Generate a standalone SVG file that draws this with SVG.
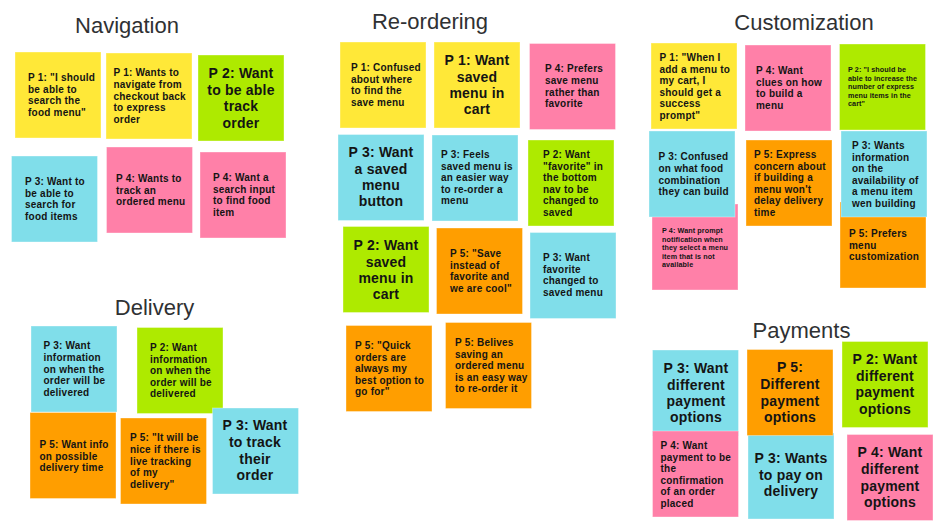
<svg xmlns="http://www.w3.org/2000/svg" width="946" height="525" viewBox="0 0 946 525">
<style>
.bg{fill:#fff}
.title{font:22px "Liberation Sans",Arial,sans-serif;fill:#2f3133;text-anchor:middle}
.n{width:86px;height:86px;stroke-width:1;stroke-opacity:.35;stroke:#fff}
.y{fill:#FFE838}.p{fill:#FF80A8}.g{fill:#AEEA00}.c{fill:#80DEEA}.o{fill:#FF9E00}
text.t{font-family:"Liberation Sans",Arial,sans-serif;font-weight:700;fill:#141414}
.s{font-size:10px;letter-spacing:.22px}.xs{font-size:7.200px;letter-spacing:.1px}.b{font-size:14px;letter-spacing:.2px;text-anchor:middle}
</style>
<rect class="bg" width="946" height="525"/>
<g id="titles">
<text class="title" x="127" y="33">Navigation</text>
<text class="title" x="430" y="29">Re-ordering</text>
<text class="title" x="804" y="30">Customization</text>
<text class="title" x="154.500" y="315">Delivery</text>
<text class="title" x="801.500" y="338">Payments</text>
</g>
<g id="connectors"/>
<g id="navigation">
<g id="nav-1"><rect class="n y" x="15" y="52"/><text class="t s" x="28"><tspan x="28" y="81">P 1: "I should</tspan><tspan x="28" y="92.500">be able to</tspan><tspan x="28" y="104">search the</tspan><tspan x="28" y="115.500">food menu"</tspan></text></g>
<g id="nav-2"><rect class="n y" x="106" y="53"/><text class="t s"><tspan x="113.500" y="76">P 1: Wants to</tspan><tspan x="113.500" y="88">navigate from</tspan><tspan x="113.500" y="99.500">checkout back</tspan><tspan x="113.500" y="111">to express</tspan><tspan x="113.500" y="122.500">order</tspan></text></g>
<g id="nav-3"><rect class="n g" x="198" y="55"/><text class="t b"><tspan x="241" y="78">P 2: Want</tspan><tspan x="241" y="95">to be able</tspan><tspan x="241" y="111">track</tspan><tspan x="241" y="127.500">order</tspan></text></g>
<g id="nav-4"><rect class="n c" x="11.500" y="156"/><text class="t s"><tspan x="25" y="185">P 3: Want to</tspan><tspan x="25" y="196.500">be able to</tspan><tspan x="25" y="208">search for</tspan><tspan x="25" y="219.500">food items</tspan></text></g>
<g id="nav-5"><rect class="n p" x="106.500" y="147"/><text class="t s"><tspan x="116" y="182">P 4: Wants to</tspan><tspan x="116" y="193.500">track an</tspan><tspan x="116" y="205">ordered menu</tspan></text></g>
<g id="nav-6"><rect class="n p" x="200" y="152"/><text class="t s"><tspan x="213" y="181">P 4: Want a</tspan><tspan x="213" y="192.500">search input</tspan><tspan x="213" y="204">to find food</tspan><tspan x="213" y="215.500">item</tspan></text></g>
</g>
<g id="reordering">
<g id="re-1"><rect class="n y" x="340" y="42"/><text class="t s"><tspan x="351" y="71">P 1: Confused</tspan><tspan x="351" y="82.500">about where</tspan><tspan x="351" y="94">to find the</tspan><tspan x="351" y="105.500">save menu</tspan></text></g>
<g id="re-2"><rect class="n y" x="434" y="42"/><text class="t b"><tspan x="477" y="65">P 1: Want</tspan><tspan x="477" y="82">saved</tspan><tspan x="477" y="98">menu in</tspan><tspan x="477" y="114">cart</tspan></text></g>
<g id="re-3"><rect class="n p" x="529.500" y="43.500"/><text class="t s"><tspan x="545" y="72">P 4: Prefers</tspan><tspan x="545" y="84">save menu</tspan><tspan x="545" y="95.500">rather than</tspan><tspan x="545" y="107">favorite</tspan></text></g>
<g id="re-4"><rect class="n c" x="338" y="134.500"/><text class="t b"><tspan x="381" y="157">P 3: Want</tspan><tspan x="381" y="174">a saved</tspan><tspan x="381" y="190">menu</tspan><tspan x="381" y="206">button</tspan></text></g>
<g id="re-5"><rect class="n c" x="432" y="135"/><text class="t s"><tspan x="441" y="158">P 3: Feels</tspan><tspan x="441" y="169.500">saved menu is</tspan><tspan x="441" y="181">an easier way</tspan><tspan x="441" y="192.500">to re-order a</tspan><tspan x="441" y="204">menu</tspan></text></g>
<g id="re-6"><rect class="n g" x="528" y="140"/><text class="t s"><tspan x="543" y="158">P 2: Want</tspan><tspan x="543" y="169.500">"favorite" in</tspan><tspan x="543" y="181">the bottom</tspan><tspan x="543" y="192.500">nav to be</tspan><tspan x="543" y="204">changed to</tspan><tspan x="543" y="215.500">saved</tspan></text></g>
<g id="re-7"><rect class="n g" x="343" y="226.500"/><text class="t b"><tspan x="386" y="250">P 2: Want</tspan><tspan x="386" y="266.500">saved</tspan><tspan x="386" y="283">menu in</tspan><tspan x="386" y="299">cart</tspan></text></g>
<g id="re-8"><rect class="n o" x="436.500" y="228"/><text class="t s"><tspan x="450" y="257">P 5: "Save</tspan><tspan x="450" y="268.500">instead of</tspan><tspan x="450" y="280">favorite and</tspan><tspan x="450" y="291.500">we are cool"</tspan></text></g>
<g id="re-9"><rect class="n c" x="530" y="232.500"/><text class="t s"><tspan x="543" y="261">P 3: Want</tspan><tspan x="543" y="272.500">favorite</tspan><tspan x="543" y="284">changed to</tspan><tspan x="543" y="295.500">saved menu</tspan></text></g>
<g id="re-10"><rect class="n o" x="346" y="325.500"/><text class="t s"><tspan x="355" y="349">P 5: "Quick</tspan><tspan x="355" y="360.500">orders are</tspan><tspan x="355" y="372">always my</tspan><tspan x="355" y="383.500">best option to</tspan><tspan x="355" y="395">go for"</tspan></text></g>
<g id="re-11"><rect class="n o" x="445.500" y="322.500"/><text class="t s"><tspan x="455" y="346">P 5: Belives</tspan><tspan x="455" y="357.500">saving an</tspan><tspan x="455" y="369">ordered menu</tspan><tspan x="455" y="380.500">is an easy way</tspan><tspan x="455" y="392">to re-order it</tspan></text></g>
</g>
<g id="customization">
<g id="cu-1"><rect class="n y" x="651" y="43"/><text class="t s"><tspan x="659.500" y="61">P 1: "When I</tspan><tspan x="659.500" y="72.500">add a menu to</tspan><tspan x="659.500" y="84">my cart, I</tspan><tspan x="659.500" y="95.500">should get a</tspan><tspan x="659.500" y="107">success</tspan><tspan x="659.500" y="118.500">prompt"</tspan></text></g>
<g id="cu-2"><rect class="n p" x="745" y="45"/><text class="t s"><tspan x="756" y="74">P 4: Want</tspan><tspan x="756" y="85.500">clues on how</tspan><tspan x="756" y="97">to build a</tspan><tspan x="756" y="108.500">menu</tspan></text></g>
<g id="cu-3"><rect class="n g" x="839.500" y="44"/><text class="t xs"><tspan x="848" y="72">P 2: "I should be</tspan><tspan x="848" y="80.500">able to increase the</tspan><tspan x="848" y="89">number of express</tspan><tspan x="848" y="97.500">menu items in the</tspan><tspan x="848" y="106">cart"</tspan></text></g>
<g id="cu-7"><rect class="n p" x="652" y="204"/><text class="t xs"><tspan x="662" y="233">P 4: Want prompt</tspan><tspan x="662" y="241.500">notification when</tspan><tspan x="662" y="250">they select a menu</tspan><tspan x="662" y="258.500">item that is not</tspan><tspan x="662" y="267">available</tspan></text></g>
<g id="cu-4"><rect class="n c" x="649" y="131"/><text class="t s"><tspan x="658.500" y="160">P 3: Confused</tspan><tspan x="658.500" y="172">on what food</tspan><tspan x="658.500" y="183.500">combination</tspan><tspan x="658.500" y="195">they can build</tspan></text></g>
<g id="cu-5"><rect class="n o" x="746" y="140"/><text class="t s"><tspan x="754" y="158">P 5: Express</tspan><tspan x="754" y="169.500">concern about</tspan><tspan x="754" y="181">if building a</tspan><tspan x="754" y="192.500">menu won't</tspan><tspan x="754" y="204">delay delivery</tspan><tspan x="754" y="215.500">time</tspan></text></g>
<g id="cu-8"><rect class="n o" x="840" y="202"/><text class="t s"><tspan x="849" y="237">P 5: Prefers</tspan><tspan x="849" y="248.500">menu</tspan><tspan x="849" y="260">customization</tspan></text></g>
<g id="cu-6"><rect class="n c" x="841" y="131"/><text class="t s"><tspan x="852" y="149">P 3: Wants</tspan><tspan x="852" y="160.500">information</tspan><tspan x="852" y="172">on the</tspan><tspan x="852" y="183.500">availability of</tspan><tspan x="852" y="195">a menu item</tspan><tspan x="852" y="206.500">wen building</tspan></text></g>
</g>
<g id="delivery">
<g id="de-1"><rect class="n c" x="31" y="326"/><text class="t s"><tspan x="43.500" y="349">P 3: Want</tspan><tspan x="43.500" y="361">information</tspan><tspan x="43.500" y="372.500">on when the</tspan><tspan x="43.500" y="384">order will be</tspan><tspan x="43.500" y="395.500">delivered</tspan></text></g>
<g id="de-2"><rect class="n g" x="137" y="327.500"/><text class="t s"><tspan x="150" y="351">P 2: Want</tspan><tspan x="150" y="362.500">information</tspan><tspan x="150" y="374">on when the</tspan><tspan x="150" y="385.500">order will be</tspan><tspan x="150" y="397">delivered</tspan></text></g>
<g id="de-3"><rect class="n o" x="30" y="412.500"/><text class="t s"><tspan x="39.500" y="448">P 5: Want info</tspan><tspan x="39.500" y="459.500">on possible</tspan><tspan x="39.500" y="471">delivery time</tspan></text></g>
<g id="de-4"><rect class="n o" x="120.500" y="418"/><text class="t s"><tspan x="130" y="441">P 5: "It will be</tspan><tspan x="130" y="453">nice if there is</tspan><tspan x="130" y="464.500">live tracking</tspan><tspan x="130" y="476">of my</tspan><tspan x="130" y="487.500">delivery"</tspan></text></g>
<g id="de-5"><rect class="n c" x="212.500" y="408"/><text class="t b"><tspan x="255" y="430">P 3: Want</tspan><tspan x="255" y="447">to track</tspan><tspan x="255" y="463.500">their</tspan><tspan x="255" y="479.500">order</tspan></text></g>
</g>
<g id="payments">
<g id="pa-1"><rect class="n c" x="652.500" y="350"/><text class="t b"><tspan x="696" y="373">P 3: Want</tspan><tspan x="696" y="389.500">different</tspan><tspan x="696" y="406">payment</tspan><tspan x="696" y="422">options</tspan></text></g>
<g id="pa-5"><rect class="n c" x="748" y="433"/><text class="t b"><tspan x="791" y="463">P 3: Wants</tspan><tspan x="791" y="480">to pay on</tspan><tspan x="791" y="496">delivery</tspan></text></g>
<g id="pa-2"><rect class="n o" x="747" y="349.500"/><text class="t b"><tspan x="790" y="372">P 5:</tspan><tspan x="790" y="389">Different</tspan><tspan x="790" y="405.500">payment</tspan><tspan x="790" y="421.500">options</tspan></text></g>
<g id="pa-3"><rect class="n g" x="842" y="341.500"/><text class="t b"><tspan x="885" y="364">P 2: Want</tspan><tspan x="885" y="381">different</tspan><tspan x="885" y="397">payment</tspan><tspan x="885" y="413.500">options</tspan></text></g>
<g id="pa-4"><rect class="n p" x="652.500" y="431"/><text class="t s"><tspan x="660.500" y="449">P 4: Want</tspan><tspan x="660.500" y="460.500">payment to be</tspan><tspan x="660.500" y="472">the</tspan><tspan x="660.500" y="483.500">confirmation</tspan><tspan x="660.500" y="495">of an order</tspan><tspan x="660.500" y="506.500">placed</tspan></text></g>
<g id="pa-6"><rect class="n p" x="847" y="434.500"/><text class="t b"><tspan x="890" y="457">P 4: Want</tspan><tspan x="890" y="474">different</tspan><tspan x="890" y="490.500">payment</tspan><tspan x="890" y="506.500">options</tspan></text></g>
</g>
</svg>
